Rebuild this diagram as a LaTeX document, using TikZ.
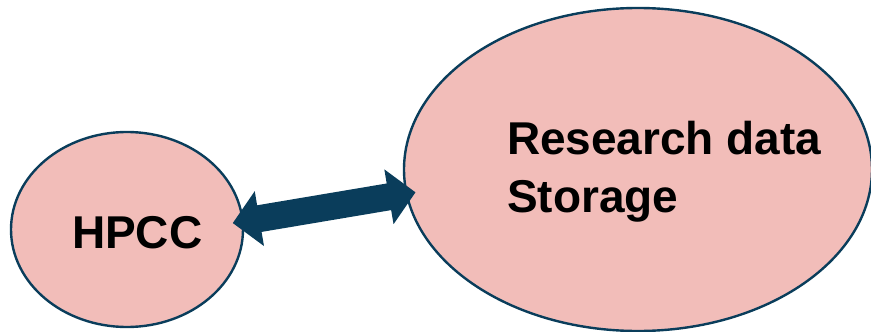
\documentclass[tikz,border=0pt]{standalone}
\usepackage{fontspec}
\setmainfont{Liberation Sans}
\usepackage{tikz}
\usetikzlibrary{shapes.geometric,arrows.meta}
\definecolor{navy}{HTML}{0A3D5B}
\definecolor{blush}{HTML}{F2BDB9}

\begin{document}
\begin{tikzpicture}
	[x=1pt,y=-1pt,every node/.style={inner sep=0pt, outer sep=0pt}]
	\tikzstyle{blob} = [ellipse, draw=navy, fill=blush, line width=2.4pt];
	\tikzstyle{lbl} = [font=\bfseries\fontsize{46pt}{58pt}\selectfont, align=left];
	\tikzstyle{link} = [navy, line width=27pt, {Triangle[length=27pt,width=54pt]}-{Triangle[length=27pt,width=54pt]}];

	\useasboundingbox (0,0) rectangle (871,332);
	\clip (0,0) rectangle (871,332);

	\node[blob, minimum width=232pt, minimum height=195pt] (hpcc) at (127,229.5) {};
	\node[blob, minimum width=468pt, minimum height=323pt] (rds) at (638,169.5) {};

	\node[lbl, anchor=base west] (hpcctxt) at (72,248) {HPCC};
	\node[lbl, anchor=base west] (rdstxt) at (507,212) {Research data\\Storage};

	\draw[link, shorten <=-10pt, shorten >=-9pt] (hpcc.4) -- (rds.186);
\end{tikzpicture}
\end{document}
